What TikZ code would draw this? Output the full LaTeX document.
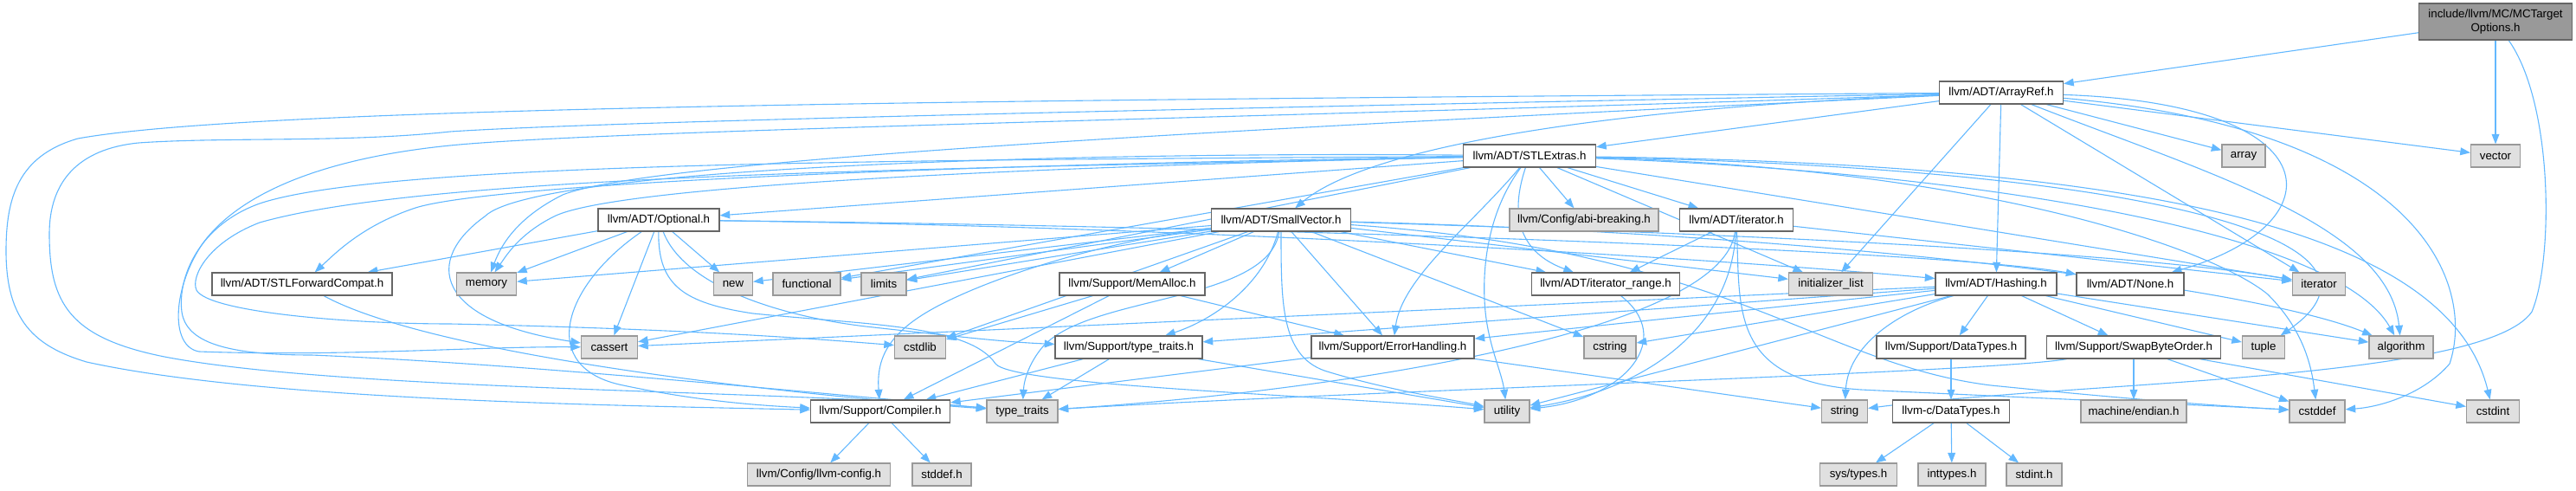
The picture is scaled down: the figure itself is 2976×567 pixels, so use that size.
\documentclass[tikz,border=0pt]{standalone}
\usepackage{fontspec}
\setmainfont{Liberation Sans}
\usetikzlibrary{arrows.meta,backgrounds}
\definecolor{edgecol}{HTML}{63B8FF}
\definecolor{nodeborder}{HTML}{666666}
\definecolor{grayborder}{HTML}{999999}
\definecolor{grayfill}{HTML}{E0E0E0}
\definecolor{topfill}{HTML}{999999}
\tikzset{
  base/.style={rectangle, inner sep=0pt, minimum height=13pt, line width=0.6pt,
    font=\fontsize{6.65}{7.6}\selectfont},
  wn/.style={base, draw=nodeborder, fill=white, minimum width=#1*0.5pt},
  gn/.style={base, draw=grayborder, fill=grayfill, minimum width=#1*0.5pt},
  tn/.style={base, draw=nodeborder, fill=topfill, align=center, minimum height=21pt, minimum width=#1*0.5pt},
  e/.style={draw=edgecol, line width=0.55pt, -{Triangle[length=5.8pt,width=4.4pt]}}
}
\begin{document}
\begin{tikzpicture}[x=0.5pt,y=-0.5pt]
\useasboundingbox (0,0) rectangle (2976,567);
% row 0
\node[tn=177] (top) at (2883,25) {include/llvm/MC/MCTarget\\Options.h};
% row 1
\node[wn=143] (arrayref) at (2312,107) {llvm/ADT/ArrayRef.h};
% row 2
\node[wn=153] (stlextras) at (1767,180) {llvm/ADT/STLExtras.h};
\node[gn=50] (array) at (2592,180) {array};
\node[gn=57] (vector) at (2883,180) {vector};
% row 3
\node[wn=140] (optional) at (761,254) {llvm/ADT/Optional.h};
\node[wn=161] (smallvector) at (1480,254) {llvm/ADT/SmallVector.h};
\node[gn=172] (abi) at (1830,254) {llvm/Config/abi-breaking.h};
\node[wn=131] (iteratorh) at (2006,254) {llvm/ADT/iterator.h};
% row 4
\node[wn=208] (fwdcompat) at (349,328) {llvm/ADT/STLForwardCompat.h};
\node[gn=69] (memory) at (562,328) {memory};
\node[gn=45] (new) at (847,328) {new};
\node[gn=78] (functional) at (932,328) {functional};
\node[gn=52] (limits) at (1021,328) {limits};
\node[wn=168] (memalloc) at (1308,328) {llvm/Support/MemAlloc.h};
\node[wn=171] (iterrange) at (1855,328) {llvm/ADT/iterator\_range.h};
\node[gn=97] (initlist) at (2115,328) {initializer\_list};
\node[wn=140] (hashing) at (2306,328) {llvm/ADT/Hashing.h};
\node[wn=124] (none) at (2461,328) {llvm/ADT/None.h};
\node[gn=61] (iterator) at (2679,328) {iterator};
% row 5
\node[gn=65] (cassert) at (704,401) {cassert};
\node[gn=59] (cstdlib) at (1063,401) {cstdlib};
\node[wn=170] (typetraitsh) at (1304,401) {llvm/Support/type\_traits.h};
\node[wn=188] (errorh) at (1609,401) {llvm/Support/ErrorHandling.h};
\node[gn=60] (cstring) at (1860,401) {cstring};
\node[wn=172] (datatypes) at (2254,401) {llvm/Support/DataTypes.h};
\node[wn=201] (swap) at (2465,401) {llvm/Support/SwapByteOrder.h};
\node[gn=49] (tuple) at (2615,401) {tuple};
\node[gn=74] (algorithm) at (2774,401) {algorithm};
% row 6
\node[wn=161] (compiler) at (1017,475) {llvm/Support/Compiler.h};
\node[gn=82] (typetraits) at (1181,475) {type\_traits};
\node[gn=52] (utility) at (1741,475) {utility};
\node[gn=53] (string) at (2131,475) {string};
\node[wn=135] (llvmc) at (2254,475) {llvm-c/DataTypes.h};
\node[gn=122] (endian) at (2465,475) {machine/endian.h};
\node[gn=64] (cstddef) at (2677,475) {cstddef};
\node[gn=61] (cstdint) at (2880,475) {cstdint};
% row 7
\node[gn=165] (llvmconfig) at (946,548) {llvm/Config/llvm-config.h};
\node[gn=68] (stddef) at (1088,548) {stddef.h};
\node[gn=89] (systypes) at (2147,548) {sys/types.h};
\node[gn=78] (inttypes) at (2255,548) {inttypes.h};
\node[gn=64] (stdint) at (2350,548) {stdint.h};

\begin{pgfonlayer}{background}
% MCTargetOptions.h
\draw[e] (top) -- (arrayref);
\draw[e] (top) -- (vector);
\draw[e] (top) .. controls (2950,120) and (2950,300) .. (2925,360) .. controls (2870,440) and (2400,440) .. (string);
% ArrayRef.h
\draw[e] (arrayref) -- (stlextras);
\draw[e] (arrayref) .. controls (1850,125) and (1580,170) .. (smallvector);
\draw[e] (arrayref) -- (hashing);
\draw[e] (arrayref) .. controls (2700,120) and (2700,260) .. (none);
\draw[e] (arrayref) .. controls (1200,115) and (300,122) .. (90,160) .. controls (20,180) and (7,230) .. (7,290) .. controls (7,370) and (40,400) .. (100,418) .. controls (300,462) and (700,468) .. (compiler);
\draw[e] (arrayref) .. controls (1400,125) and (700,140) .. (520,152) .. controls (400,165) and (260,158) .. (160,165) .. controls (90,172) and (57,210) .. (57,270) .. controls (57,350) and (80,390) .. (190,412) .. controls (400,452) and (900,450) .. (typetraits);
\draw[e] (arrayref) .. controls (1500,135) and (700,150) .. (520,168) .. controls (380,182) and (280,220) .. (235,280) .. controls (200,330) and (195,400) .. (230,406) .. controls (400,412) and (550,400) .. (cassert);
\draw[e] (arrayref) .. controls (1400,150) and (750,185) .. (650,225) .. controls (600,250) and (580,280) .. (memory);
\draw[e] (arrayref) .. controls (2550,200) and (2760,260) .. (algorithm);
\draw[e] (arrayref) .. controls (2800,150) and (2860,330) .. (2830,420) .. controls (2800,455) and (2750,470) .. (cstddef);
\draw[e] (arrayref) -- (initlist);
\draw[e] (arrayref) -- (iterator);
\draw[e] (arrayref) -- (array);
\draw[e] (arrayref) -- (vector);
% STLExtras.h
\draw[e] (stlextras) -- (optional);
\draw[e] (stlextras) .. controls (1000,192) and (560,215) .. (480,240) .. controls (420,260) and (390,290) .. (fwdcompat);
\draw[e] (stlextras) -- (iteratorh);
\draw[e] (stlextras) .. controls (1740,260) and (1765,295) .. (iterrange);
\draw[e] (stlextras) -- (abi);
\draw[e] (stlextras) .. controls (1700,260) and (1620,320) .. (errorh);
\draw[e] (stlextras) .. controls (2300,200) and (2700,270) .. (algorithm);
\draw[e] (stlextras) .. controls (1300,175) and (620,190) .. (560,250) .. controls (490,300) and (500,370) .. (cassert);
\draw[e] (stlextras) .. controls (2300,195) and (2560,290) .. (2620,340) .. controls (2660,380) and (2670,420) .. (cstddef);
\draw[e] (stlextras) .. controls (2500,190) and (2830,270) .. (cstdint);
\draw[e] (stlextras) .. controls (1100,195) and (500,200) .. (300,257) .. controls (240,280) and (220,320) .. (227,335) .. controls (240,360) and (400,374) .. (520,374) .. controls (800,380) and (950,392) .. (cstdlib);
\draw[e] (stlextras) .. controls (1100,185) and (450,185) .. (300,235) .. controls (230,260) and (205,320) .. (210,360) .. controls (215,395) and (260,410) .. (360,410) .. controls (600,420) and (900,450) .. (typetraits);
\draw[e] (stlextras) -- (functional);
\draw[e] (stlextras) -- (initlist);
\draw[e] (stlextras) -- (iterator);
\draw[e] (stlextras) -- (limits);
\draw[e] (stlextras) .. controls (1300,190) and (720,210) .. (640,250) .. controls (600,270) and (585,295) .. (memory);
\draw[e] (stlextras) .. controls (2500,195) and (2790,280) .. (tuple);
\draw[e] (stlextras) .. controls (1715,250) and (1712,320) .. (1716,360) .. controls (1720,400) and (1735,430) .. (utility);
% Optional.h
\draw[e] (optional) .. controls (1400,262) and (2000,300) .. (hashing);
\draw[e] (optional) .. controls (1500,262) and (2250,290) .. (none);
\draw[e] (optional) -- (fwdcompat);
\draw[e] (optional) .. controls (650,330) and (620,425) .. (720,445) .. controls (800,462) and (870,468) .. (compiler);
\draw[e] (optional) .. controls (790,330) and (900,365) .. (1000,377) .. controls (1100,388) and (1160,395) .. (typetraitsh);
\draw[e] (optional) -- (cassert);
\draw[e] (optional) -- (memory);
\draw[e] (optional) -- (new);
\draw[e] (optional) .. controls (760,330) and (790,350) .. (870,362) .. controls (1000,375) and (1120,375) .. (1150,420) .. controls (1170,445) and (1500,455) .. (utility);
% STLForwardCompat.h
\draw[e] (fwdcompat) .. controls (500,410) and (900,455) .. (typetraits);
% iterator.h
\draw[e] (iteratorh) -- (iterrange);
\draw[e] (iteratorh) .. controls (2010,360) and (2000,440) .. (2150,450) .. controls (2400,462) and (2550,468) .. (cstddef);
\draw[e] (iteratorh) -- (iterator);
\draw[e] (iteratorh) .. controls (1990,390) and (1500,455) .. (typetraits);
\draw[e] (iteratorh) .. controls (2000,380) and (1900,450) .. (utility);
% iterator_range.h
\draw[e] (iterrange) .. controls (1935,390) and (1880,460) .. (utility);
% SmallVector.h
\draw[e] (smallvector) -- (iterrange);
\draw[e] (smallvector) .. controls (1300,275) and (1170,310) .. (1090,350) .. controls (1030,380) and (1012,410) .. (compiler);
\draw[e] (smallvector) -- (errorh);
\draw[e] (smallvector) -- (memalloc);
\draw[e] (smallvector) .. controls (1460,330) and (1400,370) .. (typetraitsh);
\draw[e] (smallvector) .. controls (2100,270) and (2600,330) .. (algorithm);
\draw[e] (smallvector) -- (cassert);
\draw[e] (smallvector) .. controls (2000,290) and (2100,420) .. (2300,445) .. controls (2450,460) and (2550,468) .. (cstddef);
\draw[e] (smallvector) -- (cstdlib);
\draw[e] (smallvector) -- (cstring);
\draw[e] (smallvector) -- (functional);
\draw[e] (smallvector) -- (initlist);
\draw[e] (smallvector) .. controls (2000,270) and (2450,290) .. (iterator);
\draw[e] (smallvector) -- (limits);
\draw[e] (smallvector) -- (memory);
\draw[e] (smallvector) -- (new);
\draw[e] (smallvector) .. controls (1465,350) and (1260,340) .. (1205,400) .. controls (1188,420) and (1183,440) .. (typetraits);
\draw[e] (smallvector) .. controls (1480,350) and (1480,410) .. (1530,428) .. controls (1600,450) and (1680,462) .. (utility);
% MemAlloc.h
\draw[e] (memalloc) -- (compiler);
\draw[e] (memalloc) -- (errorh);
\draw[e] (memalloc) -- (cstdlib);
% type_traits.h
\draw[e] (typetraitsh) -- (compiler);
\draw[e] (typetraitsh) -- (typetraits);
\draw[e] (typetraitsh) -- (utility);
% ErrorHandling.h
\draw[e] (errorh) -- (compiler);
\draw[e] (errorh) -- (string);
% Compiler.h
\draw[e] (compiler) -- (llvmconfig);
\draw[e] (compiler) -- (stddef);
% Hashing.h
\draw[e] (hashing) -- (datatypes);
\draw[e] (hashing) -- (errorh);
\draw[e] (hashing) -- (swap);
\draw[e] (hashing) -- (typetraitsh);
\draw[e] (hashing) -- (algorithm);
\draw[e] (hashing) -- (cassert);
\draw[e] (hashing) -- (cstring);
\draw[e] (hashing) .. controls (2190,360) and (2135,400) .. (string);
\draw[e] (hashing) -- (tuple);
\draw[e] (hashing) -- (utility);
% DataTypes.h
\draw[e] (datatypes) -- (llvmc);
\draw[e] (llvmc) -- (systypes);
\draw[e] (llvmc) -- (inttypes);
\draw[e] (llvmc) -- (stdint);
% SwapByteOrder.h
\draw[e] (swap) -- (endian);
\draw[e] (swap) -- (cstddef);
\draw[e] (swap) -- (cstdint);
\draw[e] (swap) .. controls (2300,430) and (1600,450) .. (typetraits);
\end{pgfonlayer}
\end{tikzpicture}
\end{document}
